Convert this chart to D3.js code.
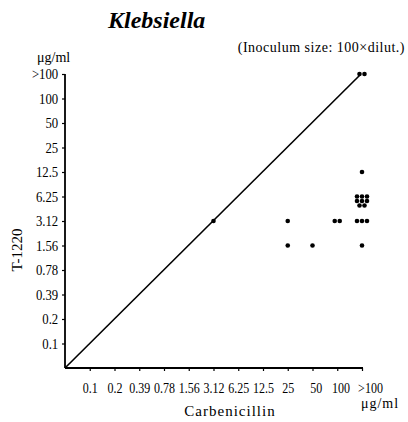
<!DOCTYPE html>
<html>
<head>
<meta charset="utf-8">
<style>
  body { margin: 0; background: #fff; }
  text { font-family: "Liberation Serif", "DejaVu Serif", serif; fill: #000; }
</style>
</head>
<body>
<svg width="408" height="422"></svg>
<script src="https://cdnjs.cloudflare.com/ajax/libs/d3/7.8.5/d3.min.js"></script>
<script>
  var svg = d3.select("svg");

  // MIC steps (µg/ml), "" is the origin
  var steps = ["", "0.1", "0.2", "0.39", "0.78", "1.56", "3.12", "6.25", "12.5", "25", "50", "100", ">100"];

  // strains: carbenicillin MIC, T-1220 MIC, number of strains
  var carbMic  = [">100", "3.12", "25",   "25",   "50",   "100",  ">100", ">100", ">100", ">100"];
  var t1220Mic = [">100", "3.12", "3.12", "1.56", "1.56", "3.12", "12.5", "6.25", "3.12", "1.56"];
  var counts   = [2,      1,      1,      1,      1,      2,      1,      8,      3,      1];

  var x = d3.scalePoint().domain(steps).range([65, 362]);
  var y = d3.scalePoint().domain(steps).range([368, 74]);

  // axes
  var xAxis = svg.append("g")
      .attr("transform", "translate(0,368)")
      .call(d3.axisBottom(x).tickSize(3).tickFormat(function(d) { return d; }));
  xAxis.select(".domain").attr("stroke-width", 1.8).attr("d", "M65,0H363");
  xAxis.selectAll(".tick").filter(function(d) { return d === ""; }).remove();
  xAxis.selectAll(".tick line").attr("stroke-width", 1.2);
  xAxis.selectAll(".tick text")
      .attr("y", 14)
      .attr("transform", "scale(0.8,1)")
      .style("font-family", "'Liberation Serif', serif")
      .style("font-size", "15px");
  // last label sits a bit right of its tick in the original
  xAxis.selectAll(".tick text").filter(function(d) { return d === ">100"; })
      .attr("x", 10);
  xAxis.selectAll(".tick text").filter(function(d) { return d === "100" || d === "50"; })
      .attr("x", 4);

  var yAxis = svg.append("g")
      .attr("transform", "translate(65,0)")
      .call(d3.axisLeft(y).tickSize(3).tickPadding(5).tickFormat(function(d) { return d; }));
  yAxis.select(".domain").attr("stroke-width", 1.8).attr("d", "M0,368V74");
  yAxis.selectAll(".tick").filter(function(d) { return d === ""; }).remove();
  yAxis.selectAll(".tick line").attr("stroke-width", 1.2);
  yAxis.selectAll(".tick text")
      .attr("transform", "scale(0.85,1)")
      .style("font-family", "'Liberation Serif', serif")
      .style("font-size", "15px");

  // identity line
  svg.append("line")
      .attr("x1", x("")).attr("y1", y(""))
      .attr("x2", x(">100") - 2).attr("y2", y(">100") + 1)
      .attr("stroke", "#000")
      .attr("stroke-width", 1.6);

  // points, strains with equal values placed side by side
  var pts = [];
  carbMic.forEach(function(c, i) {
    var n = counts[i];
    for (var k = 0; k < n; k++) {
      var row = Math.floor(k / 3), col = k % 3;
      var inRow = Math.min(3, n - row * 3);
      pts.push({
        cx: x(c) + (col - (inRow - 1) / 2) * 5,
        cy: y(t1220Mic[i]) + (n > 3 ? row * 4.5 : 0)
      });
    }
  });

  svg.selectAll("circle.pt")
      .data(pts)
      .enter().append("circle")
      .attr("class", "pt")
      .attr("cx", function(d) { return d.cx; })
      .attr("cy", function(d) { return d.cy; })
      .attr("r", 2.3)
      .attr("fill", "#000");

  // labels
  svg.append("text")
      .attr("x", 108).attr("y", 28)
      .style("font-size", "24px")
      .style("font-style", "italic")
      .style("font-weight", "bold")
      .text("Klebsiella");

  svg.append("text")
      .attr("x", 405).attr("y", 52)
      .attr("text-anchor", "end")
      .style("font-size", "14px")
      .style("letter-spacing", "0.5px")
      .text("(Inoculum size: 100\u00d7dilut.)");

  svg.append("text")
      .attr("x", 37).attr("y", 62)
      .style("font-size", "14px")
      .text("\u03bcg/ml");

  svg.append("text")
      .attr("transform", "translate(22,250) rotate(-90)")
      .attr("text-anchor", "middle")
      .style("font-size", "15px")
      .text("T-1220");

  svg.append("text")
      .attr("x", 230).attr("y", 416)
      .attr("text-anchor", "middle")
      .style("font-size", "15px")
      .style("letter-spacing", "1px")
      .text("Carbenicillin");

  svg.append("text")
      .attr("x", 380).attr("y", 408)
      .attr("text-anchor", "middle")
      .style("font-size", "14px")
      .style("letter-spacing", "1px")
      .text("\u03bcg/ml");
</script>
</body>
</html>
